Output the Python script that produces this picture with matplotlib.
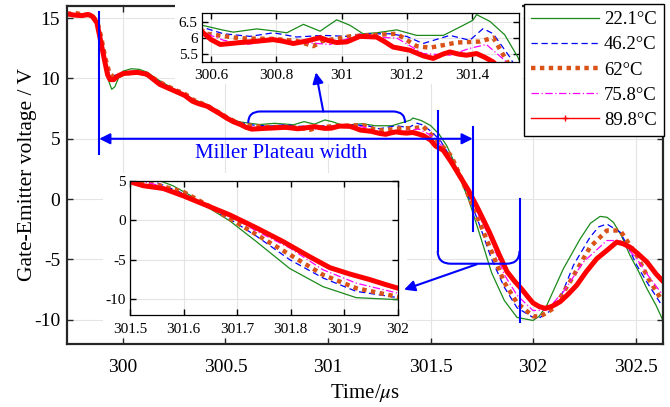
import numpy as np
import matplotlib
matplotlib.use("Agg")
import matplotlib.pyplot as plt
from matplotlib.lines import Line2D
from matplotlib.patches import FancyArrowPatch, PathPatch, Rectangle
from matplotlib.path import Path
from matplotlib.ticker import FuncFormatter

plt.rcParams["font.family"] = ["Liberation Serif", "DejaVu Serif"]
plt.rcParams["mathtext.fontset"] = "stix"
plt.rcParams["axes.unicode_minus"] = False

# gate-emitter voltage during turn-off, one trace per junction temperature
labels = ["22.1°C", "46.2°C", "62°C", "75.8°C", "89.8°C"]

t_22 = [299.727, 299.78, 299.83, 299.855, 299.875, 299.895, 299.915, 299.93, 299.945,
        299.96, 299.98, 300.0, 300.04, 300.08, 300.12, 300.16, 300.2, 300.26, 300.3,
        300.34, 300.41, 300.47, 300.51, 300.55, 300.573, 300.638, 300.668, 300.74,
        300.79, 300.832, 300.883, 300.934, 300.985, 301.026, 301.066, 301.107, 301.169,
        301.23, 301.312, 301.373, 301.403, 301.414, 301.455, 301.5, 301.541, 301.58,
        301.612, 301.643, 301.686, 301.736, 301.798, 301.86, 301.922, 302.0, 302.03,
        302.067, 302.148, 302.23, 302.28, 302.327, 302.36, 302.392, 302.43, 302.473,
        302.515, 302.555, 302.6, 302.636]
v_22 = [15.3, 15.3, 15.35, 15.1, 14.5, 13.0, 11.2, 9.8, 9.1,
        9.3, 10.1, 10.6, 10.8, 10.75, 10.5, 10.0, 9.6, 9.0, 8.7,
        8.3, 7.8, 7.2, 6.8, 6.5, 6.39, 6.24, 6.18, 6.28,
        6.22, 6.16, 6.42, 6.21, 6.56, 6.39, 6.13, 6.16, 6.25,
        6.08, 6.08, 6.39, 6.55, 6.72, 6.51, 6.1, 5.4, 4.4,
        3.2, 1.75, -0.05, -2.7, -6.1, -8.4, -9.8, -10.05, -9.7,
        -8.8, -5.76, -3.29, -2.0, -1.43, -1.5, -1.92, -3.0, -4.66,
        -6.0, -7.4, -8.8, -10.14]

t_46 = [299.727, 299.8, 299.84, 299.86, 299.88, 299.9, 299.92, 299.935, 299.95,
        299.97, 300.0, 300.05, 300.1, 300.15, 300.2, 300.26, 300.34, 300.41, 300.47,
        300.51, 300.55, 300.573, 300.638, 300.719, 300.791, 300.862, 300.944, 301.016,
        301.066, 301.148, 301.199, 301.25, 301.332, 301.393, 301.434, 301.465, 301.516,
        301.55, 301.6, 301.643, 301.69, 301.736, 301.798, 301.86, 301.922, 302.0,
        302.03, 302.08, 302.132, 302.197, 302.278, 302.32, 302.36, 302.425, 302.465,
        302.506, 302.56, 302.627]
v_46 = [15.3, 15.25, 15.3, 15.0, 14.2, 12.6, 11.0, 10.3, 10.2,
        10.3, 10.5, 10.6, 10.45, 10.0, 9.5, 9.0, 8.2, 7.75, 7.15,
        6.75, 6.45, 6.33, 6.13, 6.05, 6.16, 6.03, 6.08, 6.05,
        6.13, 6.13, 6.05, 5.83, 6.08, 5.93, 6.29, 6.13, 5.41,
        4.8, 3.4, 1.83, 0.0, -2.0, -4.98, -7.3, -9.0, -9.8,
        -9.85, -9.3, -8.22, -5.48, -3.15, -2.3, -2.06, -2.74, -4.0,
        -5.48, -7.0, -8.77]

t_62 = [299.727, 299.76, 299.8, 299.85, 299.875, 299.895, 299.915, 299.935, 299.955,
        299.98, 300.0, 300.05, 300.1, 300.15, 300.2, 300.26, 300.3, 300.34, 300.41,
        300.47, 300.51, 300.55, 300.587, 300.689, 300.791, 300.862, 300.913, 300.944,
        301.026, 301.077, 301.169, 301.23, 301.271, 301.353, 301.424, 301.465, 301.506,
        301.53, 301.6, 301.643, 301.686, 301.736, 301.798, 301.86, 301.922, 302.0,
        302.034, 302.1, 302.18, 302.278, 302.36, 302.425, 302.506, 302.56, 302.627]
v_62 = [15.3, 15.45, 15.3, 15.2, 14.7, 13.3, 11.6, 10.4, 10.1,
        10.2, 10.35, 10.5, 10.45, 10.0, 9.5, 9.0, 8.75, 8.25, 7.75,
        7.15, 6.75, 6.4, 6.13, 5.99, 5.97, 5.91, 5.75, 5.91,
        6.05, 6.08, 6.13, 5.75, 5.7, 5.86, 5.89, 6.01, 5.3,
        4.9, 3.6, 2.0, 0.25, -1.8, -4.34, -6.9, -8.6, -9.7,
        -9.73, -9.05, -6.85, -3.98, -2.6, -2.6, -4.66, -6.5, -8.36]

t_75 = [299.727, 299.8, 299.84, 299.86, 299.88, 299.9, 299.92, 299.935, 299.95,
        299.97, 300.0, 300.05, 300.1, 300.15, 300.2, 300.26, 300.34, 300.41, 300.47,
        300.51, 300.55, 300.573, 300.638, 300.709, 300.791, 300.873, 300.964, 301.026,
        301.077, 301.169, 301.25, 301.332, 301.393, 301.444, 301.506, 301.55, 301.6,
        301.643, 301.686, 301.736, 301.798, 301.86, 301.922, 302.0, 302.067, 302.148,
        302.246, 302.36, 302.425, 302.506, 302.56, 302.627]
v_75 = [15.3, 15.25, 15.45, 15.0, 14.2, 12.7, 11.0, 10.1, 9.9,
        10.1, 10.4, 10.5, 10.4, 9.95, 9.45, 8.95, 8.15, 7.7, 7.1,
        6.7, 6.35, 6.18, 5.93, 5.8, 5.93, 5.87, 5.8, 6.0,
        6.03, 6.0, 5.52, 5.47, 5.68, 5.8, 5.26, 4.5, 3.2,
        1.9, 0.6, -1.36, -3.5, -6.26, -7.96, -9.23, -9.18, -7.68,
        -5.2, -3.43, -3.43, -4.93, -6.3, -7.81]

t_89 = [299.727, 299.76, 299.8, 299.83, 299.85, 299.873, 299.89, 299.91, 299.925,
        299.937, 299.955, 299.975, 300.0, 300.03, 300.07, 300.1, 300.117, 300.15, 300.18,
        300.22, 300.26, 300.3, 300.34, 300.37, 300.41, 300.44, 300.47, 300.507,
        300.54, 300.573, 300.6, 300.628, 300.66, 300.689, 300.74, 300.79, 300.82,
        300.852, 300.89, 300.934, 300.96, 300.985, 301.016, 301.056, 301.107, 301.13,
        301.158, 301.21, 301.25, 301.281, 301.31, 301.332, 301.36, 301.383, 301.414,
        301.44, 301.465, 301.5, 301.525, 301.562, 301.6, 301.643, 301.686, 301.736,
        301.786, 301.835, 301.873, 301.91, 301.947, 301.975, 302.0, 302.03, 302.059, 302.09,
        302.132, 302.17, 302.213, 302.26, 302.311, 302.36, 302.408, 302.44, 302.473,
        302.51, 302.555, 302.6, 302.636]
v_89 = [15.35, 15.25, 15.2, 15.3, 15.15, 14.6, 13.2, 11.5, 10.3,
        9.9, 9.9, 10.2, 10.4, 10.45, 10.5, 10.4, 10.35, 9.9, 9.5,
        9.2, 8.9, 8.6, 8.1, 7.9, 7.7, 7.4, 7.1, 6.7,
        6.4, 6.18, 5.95, 5.8, 5.83, 5.86, 5.9, 5.95, 5.9,
        5.83, 5.9, 6.01, 5.92, 5.86, 5.88, 6.05, 6.03, 5.9,
        5.72, 5.62, 5.45, 5.37, 5.5, 5.57, 5.5, 5.47, 5.52,
        5.4, 5.26, 4.9, 4.4, 4.05, 3.1, 1.9, 0.7, -0.95,
        -2.7, -4.6, -6.0, -6.8, -7.5, -8.1, -8.6, -8.9, -9.05, -8.9,
        -8.5, -7.9, -7.13, -6.0, -4.93, -4.25, -3.56, -3.7, -3.98,
        -4.5, -5.2, -6.2, -6.85]

series = [(t_22, v_22), (t_46, v_46), (t_62, v_62), (t_75, v_75), (t_89, v_89)]
styles = [
    dict(color="#1b8a1b", lw=0.9, ls="-"),
    dict(color="#0000ff", lw=0.9, ls=(0, (5, 3))),
    dict(color="#d95319", lw=3.2, ls=(0, (1, 1))),
    dict(color="#ff00ff", lw=0.9, ls=(0, (6, 2, 1, 2))),
    dict(color="#ff0000", lw=3.6, ls="-"),
]

BLUE = "#0000ff"
AX_COLOR = "#262626"
GRID = "#e4e4e4"


def fmt_g(v, pos):
    return "%g" % round(v, 3)


def style_axes(ax, size, pad_x, pad_y, spine_col, spine_w):
    ax.grid(True, color=GRID, lw=0.8)
    ax.set_axisbelow(True)
    ax.tick_params(direction="in", top=True, right=True, length=4.5,
                   width=1, color=spine_col, labelsize=size)
    ax.tick_params(axis="x", pad=pad_x)
    ax.tick_params(axis="y", pad=pad_y)
    for s in ax.spines.values():
        s.set_color(spine_col)
        s.set_linewidth(spine_w)
    ax.xaxis.set_major_formatter(FuncFormatter(fmt_g))
    ax.yaxis.set_major_formatter(FuncFormatter(fmt_g))


fig = plt.figure(figsize=(6.7, 4.07), dpi=100)
ax = fig.add_axes([0.1, 0.1548, 0.8896, 0.8305])

for (t, v), st in zip(series, styles):
    ax.plot(t, v, **st)

ax.set_xlim(299.727, 302.634)
ax.set_ylim(-12, 16)
ax.set_xticks([300, 300.5, 301, 301.5, 302, 302.5])
ax.set_yticks([-10, -5, 0, 5, 10, 15])
style_axes(ax, 14, 11, 5, AX_COLOR, 1.6)
ax.set_xlabel("Time/$\\mu$s", fontsize=15, labelpad=4)
ax.set_ylabel("Gate-Emitter voltage / V", fontsize=15.5, labelpad=-2)

# white backing behind the two zoom panels
for x0, y0, x1, y1 in [(175, 0, 522, 84), (103, 173, 407, 337)]:
    ax.add_patch(Rectangle((x0 / 670, 1 - y1 / 407), (x1 - x0) / 670, (y1 - y0) / 407,
                           transform=fig.transFigure, facecolor="white",
                           edgecolor="none", zorder=3, clip_on=False))

# Miller plateau markers
lw_a = 1.5
ax.plot([299.884, 299.884], [3.78, 15.5], color=BLUE, lw=lw_a, zorder=4, clip_on=False)
ax.plot([301.706, 301.706], [-2.6, 5.98], color=BLUE, lw=lw_a, zorder=4)
ax.plot([301.535, 301.535], [-4.3, 7.26], color=BLUE, lw=lw_a, zorder=4)
ax.plot([301.934, 301.934], [-10.14, 0.0], color=BLUE, lw=lw_a, zorder=4)
ax.add_patch(FancyArrowPatch((299.884, 5.0), (301.706, 5.0), arrowstyle="<|-|>",
                             mutation_scale=16, color=BLUE, lw=lw_a,
                             shrinkA=0, shrinkB=0, zorder=4))
ax.text(300.771, 3.75, "Miller Plateau width", color=BLUE, fontsize=15,
        ha="center", va="center", zorder=4)

# bracket over the plateau and arrow to the upper zoom
top = Path([(300.611, 6.31), (300.611, 7.26), (300.67, 7.26), (301.317, 7.26),
            (301.376, 7.26), (301.376, 6.31)],
           [Path.MOVETO, Path.CURVE3, Path.CURVE3, Path.LINETO, Path.CURVE3, Path.CURVE3])
ax.add_patch(PathPatch(top, fill=False, edgecolor=BLUE, lw=lw_a, zorder=4))
ax.add_patch(FancyArrowPatch((300.977, 7.26), (300.941, 10.5), arrowstyle="-|>",
                             mutation_scale=16, color=BLUE, lw=lw_a,
                             shrinkA=0, shrinkB=0, zorder=4, clip_on=False))

# bracket over the falling edge and arrow to the lower zoom
bot = Path([(301.535, -4.3), (301.535, -5.35), (301.6, -5.35), (301.87, -5.35),
            (301.934, -5.35), (301.934, -4.3)],
           [Path.MOVETO, Path.CURVE3, Path.CURVE3, Path.LINETO, Path.CURVE3, Path.CURVE3])
ax.add_patch(PathPatch(bot, fill=False, edgecolor=BLUE, lw=lw_a, zorder=4))
ax.add_patch(FancyArrowPatch((301.725, -5.4), (301.371, -7.5), arrowstyle="-|>",
                             mutation_scale=16, color=BLUE, lw=lw_a,
                             shrinkA=0, shrinkB=0, zorder=4))

handles = [Line2D([], [], **st) for st in styles]
handles[4] = Line2D([], [], color="#ff0000", lw=1, marker="+", markersize=4)
handles[2] = Line2D([], [], color="#d95319", lw=3.2, ls=(0, (1, 1)))
leg = ax.legend(handles, labels, loc="upper right",
                bbox_to_anchor=(664 / 670, 1 - 4 / 407), bbox_transform=fig.transFigure,
                fontsize=13.5, handlelength=3.6, handletextpad=0.3, labelspacing=0.43,
                borderpad=0.38, borderaxespad=0, fancybox=False, framealpha=1,
                edgecolor="black")
leg.get_frame().set_linewidth(1.0)
leg.set_zorder(5)

# upper zoom: plateau
ax1 = fig.add_axes([202 / 670, 1 - 62 / 407, 317 / 670, 49 / 407], zorder=2)
for (t, v), st in zip(series, styles):
    ax1.plot(t, v, **st)
ax1.set_xlim(300.572, 301.544)
ax1.set_ylim(5.26, 6.77)
ax1.set_xticks([300.6, 300.8, 301, 301.2, 301.4])
ax1.set_yticks([5.5, 6, 6.5])
style_axes(ax1, 11, 5, 3, "black", 0.9)

# lower zoom: falling edge
ax2 = fig.add_axes([130 / 670, 1 - 315 / 407, 268 / 670, 134 / 407], zorder=2)
for (t, v), st in zip(series, styles):
    ax2.plot(t, v, **st)
ax2.set_xlim(301.5, 302)
ax2.set_ylim(-12, 5)
ax2.set_xticks([301.5, 301.6, 301.7, 301.8, 301.9, 302])
ax2.set_yticks([-10, -5, 0, 5])
style_axes(ax2, 11, 6, 3, "black", 0.9)

fig.savefig("out.png", dpi=100)
